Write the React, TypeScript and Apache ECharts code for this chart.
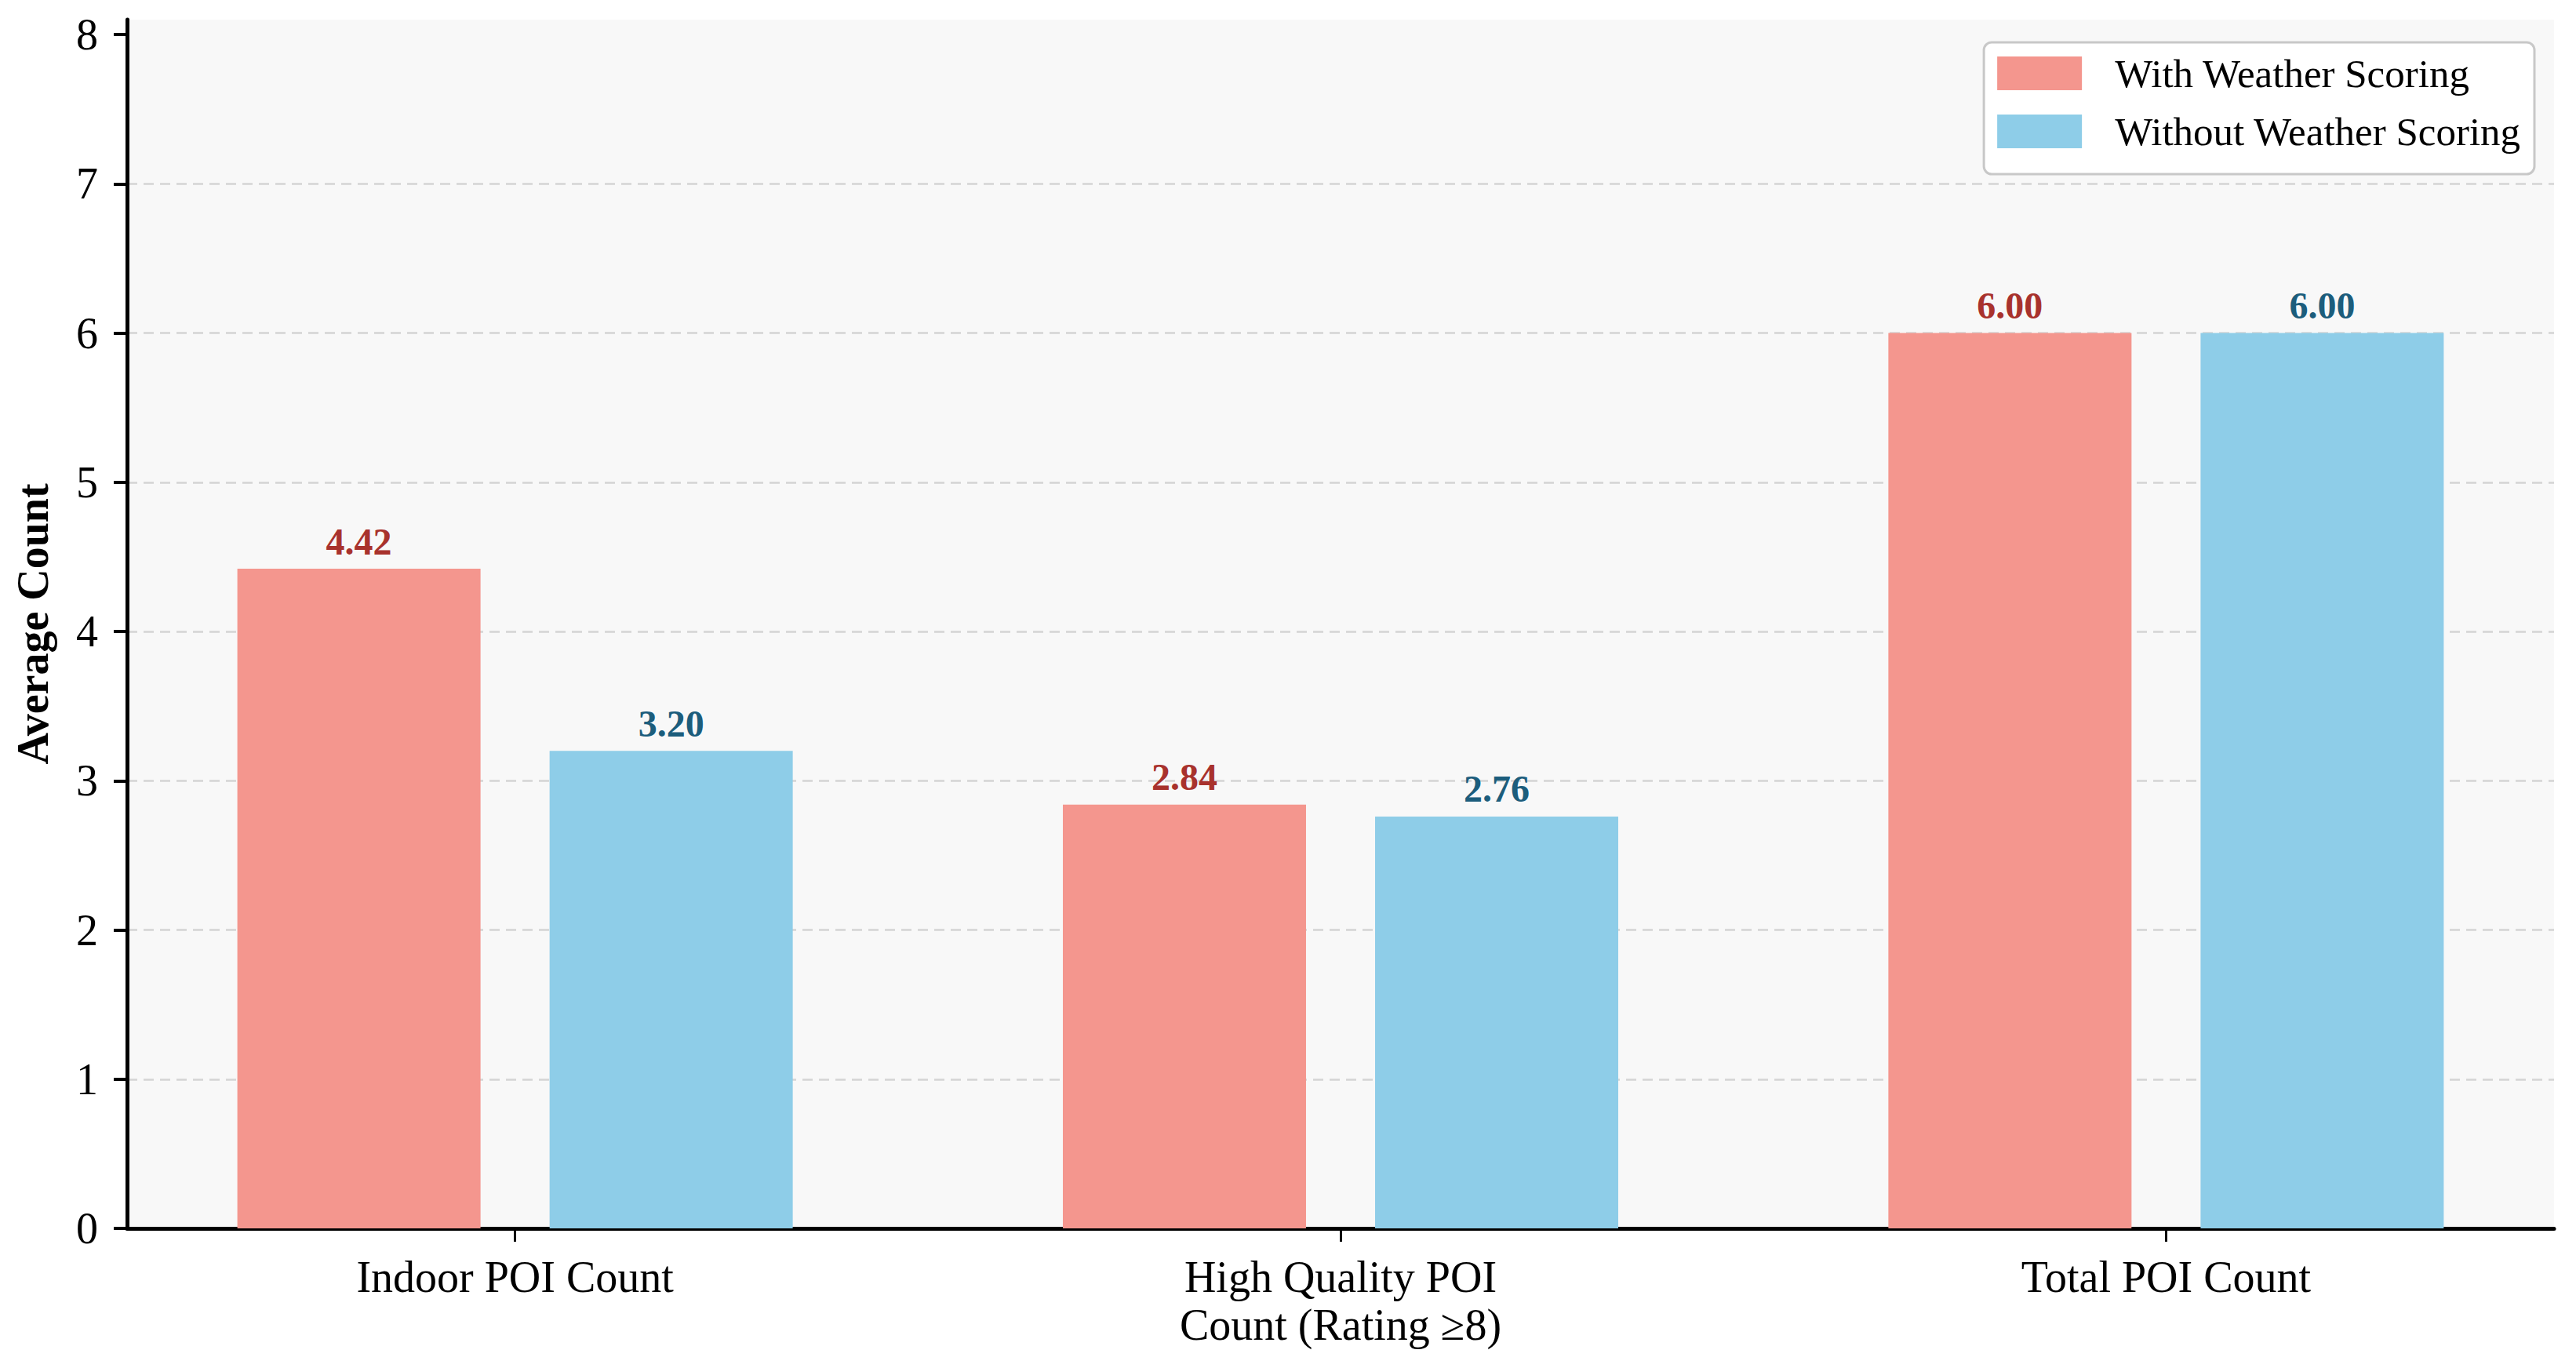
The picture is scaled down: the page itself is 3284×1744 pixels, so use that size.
import React, { useEffect, useRef } from "react";
import * as echarts from "echarts";

const categories: string[] = ["Indoor POI Count", "High Quality POI\nCount (Rating ≥8)", "Total POI Count"];
const withWeather: number[] = [4.42, 2.84, 6.0];
const withoutWeather: number[] = [3.2, 2.76, 6.0];
const seriesNames: string[] = ["With Weather Scoring", "Without Weather Scoring"];
const yTicks: number[] = [0, 1, 2, 3, 4, 5, 6, 7, 8];
const xPositions: number[] = [0, 1, 2];

const FONT = "'Liberation Serif', 'DejaVu Serif', serif";
const RED = "#F4968E";
const BLUE = "#8ECDE8";
const RED_TEXT = "#A8322D";
const BLUE_TEXT = "#1C5D7C";

export default function App() {
  const ref = useRef<HTMLDivElement>(null);
  useEffect(() => {
    document.body.style.margin = "0";
    if (!ref.current) return;
    const chart = echarts.init(ref.current, undefined, { renderer: "svg" });
    const mk = (vals: number[]) => vals.map((v, i) => [xPositions[i], v]);
    const labelFor = (color: string) => ({
      show: true,
      position: "top",
      distance: 11,
      color,
      fontFamily: FONT,
      fontWeight: "bold",
      fontSize: 48,
      formatter: (p: any) => Number(p.value[1]).toFixed(2),
    });
    chart.setOption({
      animation: false,
      backgroundColor: "#ffffff",
      grid: {
        left: 162,
        right: 28,
        top: 25,
        bottom: 178,
        show: true,
        backgroundColor: "#f8f8f8",
        borderWidth: 0,
      },
      legend: {
        orient: "vertical",
        right: 53,
        top: 54,
        icon: "rect",
        itemWidth: 108,
        itemHeight: 43,
        itemGap: 23,
        padding: [14, 17, 29, 17],
        backgroundColor: "#ffffff",
        borderColor: "#c8c8c8",
        borderWidth: 3,
        borderRadius: 10,
        data: seriesNames,
        textStyle: {
          fontFamily: FONT,
          fontSize: 51,
          color: "#000000",
          lineHeight: 43,
          padding: [0, 0, 0, 37],
        },
      },
      xAxis: {
        type: "value",
        min: -0.47,
        max: 2.47,
        splitLine: { show: false },
        axisLine: { show: true, onZero: false, lineStyle: { color: "#000000", width: 5 } },
        axisTick: {
          show: true,
          customValues: xPositions,
          length: 17,
          lineStyle: { color: "#000000", width: 3 },
        },
        axisLabel: {
          customValues: xPositions,
          formatter: (v: number) => categories[Math.round(v)] ?? "",
          fontFamily: FONT,
          fontSize: 56,
          lineHeight: 61,
          color: "#000000",
          margin: 31,
        },
      },
      yAxis: {
        type: "value",
        min: 0,
        max: 8.1,
        name: "Average Count",
        nameLocation: "middle",
        nameGap: 92,
        nameTextStyle: {
          fontFamily: FONT,
          fontSize: 56,
          fontWeight: "bold",
          color: "#000000",
        },
        axisLine: { show: true, onZero: false, lineStyle: { color: "#000000", width: 5 } },
        axisTick: {
          show: true,
          customValues: yTicks,
          length: 17,
          lineStyle: { color: "#000000", width: 4 },
        },
        axisLabel: {
          customValues: yTicks,
          fontFamily: FONT,
          fontSize: 56,
          color: "#000000",
          margin: 37,
        },
        splitLine: {
          show: true,
          showMinLine: false,
          showMaxLine: false,
          lineStyle: { color: "#d4d4d4", width: 2.5, type: [13, 8] },
        },
      },
      series: [
        {
          name: seriesNames[0],
          type: "bar",
          data: mk(withWeather),
          barWidth: 310,
          barGap: "28.4%",
          itemStyle: { color: RED },
          label: labelFor(RED_TEXT),
        },
        {
          name: seriesNames[1],
          type: "bar",
          data: mk(withoutWeather),
          barWidth: 310,
          barGap: "28.4%",
          itemStyle: { color: BLUE },
          label: labelFor(BLUE_TEXT),
        },
      ],
    });
    return () => chart.dispose();
  }, []);
  return (
    <div
      ref={ref}
      style={{ position: "absolute", left: 0, top: 0, width: "3284px", height: "1744px" }}
    />
  );
}
